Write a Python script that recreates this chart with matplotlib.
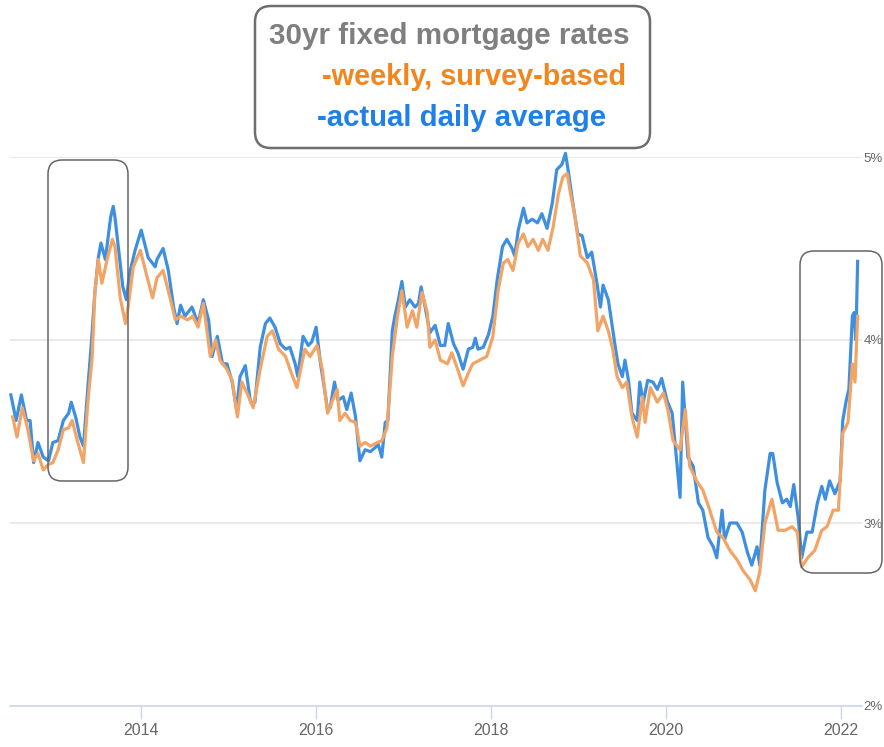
import matplotlib
matplotlib.use("Agg")
import matplotlib.pyplot as plt
from matplotlib.patches import FancyBboxPatch
from matplotlib.transforms import IdentityTransform

# actual daily average (blue), decimal year / rate in %
daily_t = [2012.51, 2012.57, 2012.63, 2012.69, 2012.73, 2012.77, 2012.82, 2012.88, 2012.94, 2012.99,
           2013.05, 2013.11, 2013.17, 2013.20, 2013.25, 2013.30, 2013.34, 2013.39, 2013.43, 2013.47,
           2013.51, 2013.54, 2013.59, 2013.65, 2013.68, 2013.70, 2013.76, 2013.79, 2013.83, 2013.87,
           2013.93, 2014.00, 2014.08, 2014.16, 2014.18, 2014.25, 2014.31, 2014.37, 2014.41, 2014.45,
           2014.50, 2014.58, 2014.65, 2014.71, 2014.77, 2014.81, 2014.87, 2014.93, 2014.98, 2015.04,
           2015.09, 2015.13, 2015.19, 2015.25, 2015.30, 2015.36, 2015.42, 2015.47, 2015.53, 2015.59,
           2015.65, 2015.70, 2015.76, 2015.79, 2015.85, 2015.91, 2015.95, 2016.00, 2016.05, 2016.08,
           2016.13, 2016.16, 2016.21, 2016.25, 2016.31, 2016.35, 2016.40, 2016.45, 2016.50, 2016.56,
           2016.62, 2016.67, 2016.71, 2016.75, 2016.79, 2016.82, 2016.87, 2016.90, 2016.94, 2016.98,
           2017.02, 2017.07, 2017.13, 2017.17, 2017.20, 2017.25, 2017.30, 2017.36, 2017.42, 2017.47,
           2017.51, 2017.57, 2017.62, 2017.68, 2017.74, 2017.79, 2017.82, 2017.85, 2017.91, 2017.97,
           2018.02, 2018.07, 2018.13, 2018.18, 2018.24, 2018.27, 2018.31, 2018.37, 2018.41, 2018.47,
           2018.53, 2018.58, 2018.64, 2018.70, 2018.75, 2018.81, 2018.85, 2018.88, 2018.94, 2018.99,
           2019.04, 2019.10, 2019.15, 2019.21, 2019.25, 2019.28, 2019.34, 2019.38, 2019.42, 2019.45,
           2019.50, 2019.53, 2019.57, 2019.61, 2019.67, 2019.70, 2019.74, 2019.79, 2019.85, 2019.90,
           2019.95, 2020.01, 2020.07, 2020.10, 2020.16, 2020.19, 2020.25, 2020.31, 2020.37, 2020.42,
           2020.48, 2020.54, 2020.58, 2020.64, 2020.67, 2020.73, 2020.81, 2020.87, 2020.93, 2020.98,
           2021.04, 2021.07, 2021.13, 2021.19, 2021.22, 2021.27, 2021.33, 2021.38, 2021.42, 2021.46,
           2021.51, 2021.55, 2021.61, 2021.67, 2021.73, 2021.78, 2021.82, 2021.87, 2021.93, 2021.99,
           2022.02, 2022.06, 2022.09, 2022.13, 2022.15, 2022.17, 2022.19]
daily_rate = [3.70, 3.56, 3.70, 3.56, 3.56, 3.33, 3.44, 3.36, 3.34, 3.44,
              3.45, 3.56, 3.60, 3.66, 3.58, 3.47, 3.42, 3.74, 3.98, 4.26,
              4.45, 4.53, 4.44, 4.67, 4.73, 4.67, 4.42, 4.29, 4.22, 4.37,
              4.49, 4.60, 4.45, 4.40, 4.44, 4.50, 4.38, 4.18, 4.09, 4.19,
              4.13, 4.18, 4.09, 4.22, 4.11, 3.91, 4.02, 3.87, 3.87, 3.77,
              3.62, 3.80, 3.86, 3.66, 3.66, 3.96, 4.09, 4.12, 4.07, 3.98,
              3.95, 3.96, 3.87, 3.80, 4.02, 3.97, 3.99, 4.07, 3.87, 3.78,
              3.62, 3.63, 3.77, 3.67, 3.69, 3.62, 3.71, 3.58, 3.34, 3.40,
              3.39, 3.41, 3.43, 3.36, 3.55, 3.56, 4.05, 4.13, 4.22, 4.32,
              4.18, 4.22, 4.18, 4.20, 4.29, 4.17, 4.04, 4.08, 3.97, 3.97,
              4.09, 3.98, 3.93, 3.84, 3.95, 3.96, 4.01, 3.95, 3.96, 4.03,
              4.13, 4.33, 4.51, 4.55, 4.50, 4.46, 4.60, 4.72, 4.64, 4.66,
              4.64, 4.69, 4.61, 4.75, 4.93, 4.96, 5.02, 4.93, 4.73, 4.58,
              4.57, 4.45, 4.48, 4.31, 4.18, 4.30, 4.22, 4.09, 3.96, 3.87,
              3.80, 3.89, 3.78, 3.60, 3.56, 3.77, 3.66, 3.78, 3.77, 3.73,
              3.79, 3.67, 3.60, 3.45, 3.14, 3.77, 3.36, 3.31, 3.11, 3.07,
              2.92, 2.87, 2.81, 3.07, 2.91, 3.00, 3.00, 2.95, 2.84, 2.77,
              2.87, 2.77, 3.18, 3.38, 3.38, 3.22, 3.11, 3.13, 3.09, 3.21,
              3.03, 2.81, 2.95, 2.95, 3.11, 3.20, 3.13, 3.23, 3.16, 3.23,
              3.56, 3.67, 3.73, 4.13, 4.15, 4.00, 4.43]

# weekly survey-based (orange)
weekly_t = [2012.53, 2012.58, 2012.64, 2012.70, 2012.77, 2012.82, 2012.88, 2012.94, 2012.99, 2013.05,
            2013.11, 2013.17, 2013.21, 2013.27, 2013.34, 2013.39, 2013.44, 2013.47, 2013.51, 2013.55,
            2013.61, 2013.67, 2013.70, 2013.76, 2013.82, 2013.85, 2013.91, 2013.99, 2014.07, 2014.13,
            2014.18, 2014.25, 2014.33, 2014.39, 2014.45, 2014.53, 2014.59, 2014.65, 2014.71, 2014.79,
            2014.85, 2014.90, 2014.98, 2015.04, 2015.10, 2015.15, 2015.21, 2015.28, 2015.36, 2015.44,
            2015.50, 2015.57, 2015.65, 2015.70, 2015.78, 2015.87, 2015.93, 2016.01, 2016.07, 2016.13,
            2016.18, 2016.24, 2016.27, 2016.33, 2016.39, 2016.45, 2016.50, 2016.56, 2016.62, 2016.70,
            2016.75, 2016.81, 2016.87, 2016.93, 2016.98, 2017.04, 2017.10, 2017.15, 2017.21, 2017.27,
            2017.30, 2017.36, 2017.42, 2017.50, 2017.55, 2017.61, 2017.68, 2017.74, 2017.79, 2017.87,
            2017.95, 2018.02, 2018.08, 2018.14, 2018.19, 2018.25, 2018.31, 2018.37, 2018.42, 2018.48,
            2018.54, 2018.59, 2018.65, 2018.71, 2018.77, 2018.82, 2018.87, 2018.90, 2018.96, 2019.02,
            2019.10, 2019.17, 2019.22, 2019.28, 2019.34, 2019.39, 2019.44, 2019.50, 2019.55, 2019.61,
            2019.67, 2019.73, 2019.76, 2019.82, 2019.90, 2019.97, 2020.02, 2020.08, 2020.16, 2020.22,
            2020.27, 2020.35, 2020.42, 2020.50, 2020.58, 2020.65, 2020.73, 2020.81, 2020.88, 2020.96,
            2021.02, 2021.07, 2021.13, 2021.21, 2021.28, 2021.36, 2021.44, 2021.50, 2021.55, 2021.62,
            2021.70, 2021.78, 2021.84, 2021.91, 2021.97, 2022.02, 2022.08, 2022.13, 2022.16, 2022.19]
weekly_rate = [3.58, 3.47, 3.63, 3.52, 3.34, 3.38, 3.29, 3.32, 3.33, 3.40,
               3.51, 3.52, 3.56, 3.45, 3.33, 3.66, 3.91, 4.26, 4.44, 4.31,
               4.44, 4.55, 4.51, 4.23, 4.09, 4.18, 4.40, 4.49, 4.34, 4.23,
               4.34, 4.38, 4.23, 4.11, 4.13, 4.11, 4.13, 4.07, 4.20, 3.91,
               4.00, 3.89, 3.84, 3.78, 3.58, 3.77, 3.71, 3.63, 3.84, 4.02,
               4.05, 3.95, 3.91, 3.84, 3.74, 3.95, 3.91, 3.97, 3.84, 3.60,
               3.66, 3.73, 3.56, 3.60, 3.56, 3.55, 3.42, 3.44, 3.42, 3.44,
               3.45, 3.52, 3.91, 4.13, 4.27, 4.07, 4.16, 4.07, 4.26, 4.15,
               3.96, 4.00, 3.89, 3.87, 3.93, 3.85, 3.75, 3.82, 3.87, 3.89,
               3.91, 4.02, 4.27, 4.42, 4.44, 4.38, 4.53, 4.58, 4.51, 4.55,
               4.49, 4.55, 4.49, 4.62, 4.80, 4.89, 4.91, 4.82, 4.67, 4.46,
               4.42, 4.33, 4.05, 4.13, 4.05, 3.95, 3.80, 3.74, 3.77, 3.58,
               3.47, 3.69, 3.55, 3.74, 3.66, 3.71, 3.62, 3.45, 3.40, 3.62,
               3.31, 3.23, 3.18, 3.07, 2.95, 2.92, 2.85, 2.80, 2.74, 2.69,
               2.63, 2.73, 3.00, 3.13, 2.96, 2.96, 2.98, 2.95, 2.76, 2.81,
               2.85, 2.96, 2.98, 3.07, 3.07, 3.49, 3.55, 3.87, 3.77, 4.13]

year_ticks = [2014, 2016, 2018, 2020, 2022]
rate_ticks = [2, 3, 4, 5]

W, H = 884, 747
plt.rcParams['font.family'] = ['Liberation Sans', 'DejaVu Sans']
fig = plt.figure(figsize=(W / 100, H / 100), dpi=100)
ax = fig.add_axes([10 / W, 41 / H, 852 / W, 549 / H])

ax.plot(daily_t, daily_rate, color="#3f8fe0", lw=2.3, clip_on=False, zorder=3)
ax.plot(weekly_t, weekly_rate, color="#f2a466", lw=2.3, clip_on=False, zorder=4)

ax.set_xlim(2012.5, 2022.24)
ax.set_ylim(2, 5)
ax.set_xticks(year_ticks)
ax.set_xticklabels([str(y) for y in year_ticks])
ax.set_yticks(rate_ticks)
ax.set_yticklabels([f"{r}%" for r in rate_ticks])
ax.yaxis.tick_right()
for s in ["top", "left", "right"]:
    ax.spines[s].set_visible(False)
ax.spines["bottom"].set_color("#ccd6eb")
ax.spines["bottom"].set_linewidth(1.2)
ax.grid(axis="y", color="#e6e6e6", lw=1.2)
ax.set_axisbelow(True)
ax.tick_params(axis="y", length=0, pad=1, labelsize=9.5, labelcolor="#666666")
ax.tick_params(axis="x", length=9, width=1, color="#ccd6eb", pad=3,
               labelsize=11.5, labelcolor="#666666")


def px_box(x0, y0, x1, y1, r, lw, ec):
    # image pixel coords (top-left origin) -> display coords
    p = FancyBboxPatch((x0, H - y1), x1 - x0, y1 - y0,
                       boxstyle=f"round,pad=0,rounding_size={r}",
                       transform=IdentityTransform(), fc="none", ec=ec, lw=lw,
                       zorder=10)
    fig.add_artist(p)


# highlight boxes
px_box(48, 160, 128, 481, 14, 1.1, "#666666")
px_box(800, 251, 882, 573, 14, 1.1, "#666666")

# title box
px_box(255, 6, 650, 148, 16, 1.8, "#6e6e6e")
fig.text(449 / W, 1 - 36 / H, "30yr fixed mortgage rates", ha="center", va="center",
         fontsize=21.3, fontweight="bold", color="#7f7f7f")
fig.text(474 / W, 1 - 77 / H, "-weekly, survey-based", ha="center", va="center",
         fontsize=20.8, fontweight="bold", color="#f0861e")
fig.text(462 / W, 1 - 118 / H, "-actual daily average", ha="center", va="center",
         fontsize=21.2, fontweight="bold", color="#1f80e8")

fig.savefig("out.png", dpi=100)
